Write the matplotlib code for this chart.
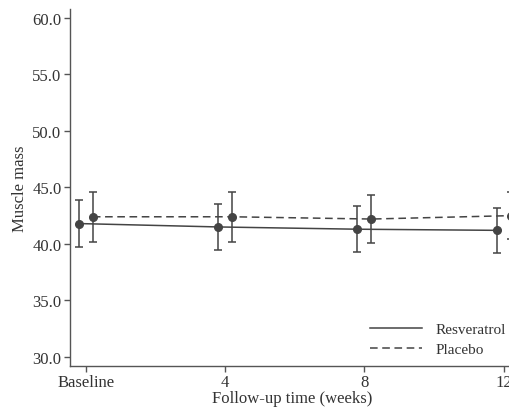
import numpy as np
import matplotlib.pyplot as plt

# -- data --
weeks = [0, 4, 8, 12]
tick_labels = ["Baseline", "4", "8", "12"]
resv_mean = [41.8, 41.5, 41.3, 41.2]
resv_err = [2.05, 2.05, 2.05, 2.0]
plac_mean = [42.4, 42.4, 42.2, 42.5]
plac_err = [2.2, 2.2, 2.15, 2.1]

plt.rcParams['font.family'] = ['Liberation Serif', 'DejaVu Serif']

def main():
    fig = plt.figure(figsize=(5.1, 4.1), dpi=100)
    ax = fig.add_axes([0.137, 0.105, 0.871, 0.871])

    x = np.array(weeks, dtype=float)
    gray = "#444444"
    ax.errorbar(x - 0.2, resv_mean, yerr=resv_err, fmt="o", color=gray,
                ms=5.5, capsize=2.6, elinewidth=1.1, capthick=1.1, zorder=3)
    ax.errorbar(x + 0.2, plac_mean, yerr=plac_err, fmt="o", color=gray,
                ms=5.5, capsize=2.6, elinewidth=1.1, capthick=1.1, zorder=3)
    ax.plot(x - 0.2, resv_mean, "-", color=gray, lw=1.1, label="Resveratrol")
    ax.plot(x + 0.2, plac_mean, "--", color=gray, lw=1.1, dashes=(5, 3),
            label="Placebo")

    # -- axes --
    ax.set_xlim(-0.46, 12.3)
    ax.set_ylim(29.2, 60.8)
    ax.set_yticks(np.arange(30, 61, 5))
    ax.set_yticklabels([f"{v:.1f}" for v in np.arange(30, 61, 5)])
    ax.set_xticks(weeks)
    ax.set_xticklabels(tick_labels)
    for s in ["top", "right"]:
        ax.spines[s].set_visible(False)
    for s in ["left", "bottom"]:
        ax.spines[s].set_color("#555555")
        ax.spines[s].set_linewidth(1.0)
    ax.tick_params(colors="#555555", labelcolor="#333333", labelsize=12,
                   length=4, width=1.0, pad=2)
    ax.set_xlabel("Follow-up time (weeks)", fontsize=12, color="#333333",
                  labelpad=0)
    ax.set_ylabel("Muscle mass", fontsize=12, color="#333333", labelpad=3)

    ax.legend(loc="lower right", bbox_to_anchor=(1.012, -0.012), frameon=False,
              fontsize=11, handlelength=3.4, handletextpad=0.85,
              labelspacing=0.45, labelcolor="#333333")

    plt.savefig("out.png", dpi=100)


if __name__ == "__main__":
    main()
